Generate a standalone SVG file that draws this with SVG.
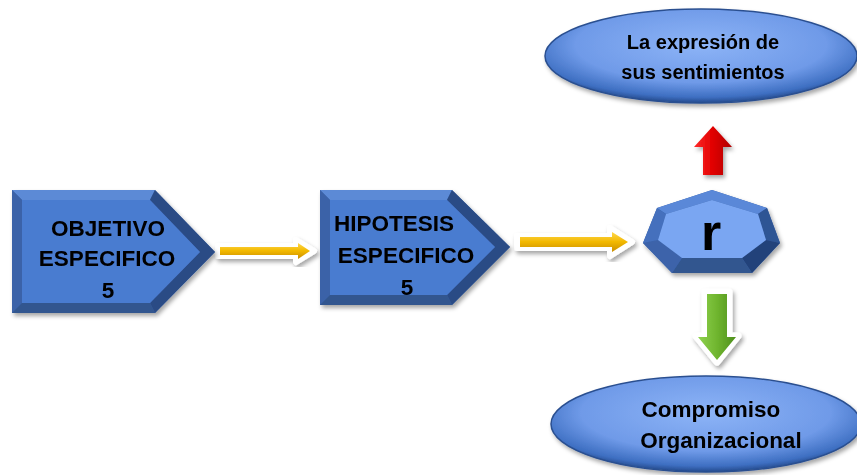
<svg xmlns="http://www.w3.org/2000/svg" width="857" height="475" viewBox="0 0 857 475">
<defs>
<style>
.t{font-family:"Liberation Sans",Arial,sans-serif;font-weight:bold;fill:#000;text-anchor:middle}
.face{fill:#4a7bd0}
.bevL{fill:#3a62a8}
.bevT{fill:#5b8ad6}
.bevD{fill:#2b4b85}
.bevB{fill:#33568f}
</style>
<radialGradient id="ell" cx="0.5" cy="0.38" r="0.62">
<stop offset="0" stop-color="#8db4f7"/>
<stop offset="0.65" stop-color="#6f9ae8"/>
<stop offset="0.9" stop-color="#3e6fc2"/>
<stop offset="1" stop-color="#244a8c"/>
</radialGradient>
<linearGradient id="yel" x1="0" y1="0" x2="0" y2="1">
<stop offset="0" stop-color="#ffd84a"/>
<stop offset="0.5" stop-color="#f2b800"/>
<stop offset="1" stop-color="#c98e00"/>
</linearGradient>
<linearGradient id="red" x1="0" y1="0" x2="1" y2="0">
<stop offset="0" stop-color="#ff2a2a"/>
<stop offset="0.5" stop-color="#e00000"/>
<stop offset="1" stop-color="#b00000"/>
</linearGradient>
<linearGradient id="grn" x1="0" y1="0" x2="1" y2="0">
<stop offset="0" stop-color="#8fd14f"/>
<stop offset="0.5" stop-color="#6fb52e"/>
<stop offset="1" stop-color="#4e8f1c"/>
</linearGradient>
<filter id="sh" x="-20%" y="-20%" width="140%" height="140%">
<feDropShadow dx="2" dy="3" stdDeviation="2" flood-color="#000" flood-opacity="0.35"/>
</filter>
</defs>

<g id="connectors">
<g id="arrow1" filter="url(#sh)">
<path d="M218,246 L296,246 L296,240 L314,251 L296,262 L296,256 L218,256 Z" fill="#fff" stroke="#fff" stroke-width="6" stroke-linejoin="round"/>
<path d="M220,247 L298,247 L298,243 L310,251 L298,259 L298,255 L220,255 Z" fill="url(#yel)"/>
</g>
<g id="arrow2" filter="url(#sh)">
<path d="M517,236 L610,236 L610,228 L632,242 L610,256 L610,248 L517,248 Z" fill="#fff" stroke="#fff" stroke-width="6" stroke-linejoin="round"/>
<path d="M520,237 L612,237 L612,232 L628,242 L612,252 L612,247 L520,247 Z" fill="url(#yel)"/>
</g>
<g id="arrow-up" filter="url(#sh)">
<path d="M703,175 L703,147 L694,147 L713,126 L732,147 L723,147 L723,175 Z" fill="url(#red)"/>
</g>
<g id="arrow-down" filter="url(#sh)">
<path d="M705,292 L729,292 L729,336 L738,336 L717,362 L696,336 L705,336 Z" fill="#fff" stroke="#fff" stroke-width="7" stroke-linejoin="round"/>
<path d="M707,294 L727,294 L727,337 L736,337 L717,360 L698,337 L707,337 Z" fill="url(#grn)"/>
</g>
</g>

<g id="node-objetivo" filter="url(#sh)">
<polygon class="bevL" points="12,190 155,190 215,252 155,313 12,313"/>
<polygon class="bevT" points="12,190 155,190 150,200 22,200"/>
<polygon class="bevL" points="12,190 22,200 22,303 12,313"/>
<polygon class="bevD" points="155,190 215,252 200,252 150,200"/>
<polygon class="bevD" points="215,252 155,313 150,303 200,252"/>
<polygon class="bevB" points="12,313 155,313 150,303 22,303"/>
<polygon class="face" points="22,200 150,200 200,252 150,303 22,303"/>
<text class="t" x="108" y="236" font-size="22.5">OBJETIVO</text>
<text class="t" x="107" y="266" font-size="22.5">ESPECIFICO</text>
<text class="t" x="108" y="298" font-size="22.5">5</text>
</g>

<g id="node-hipotesis" filter="url(#sh)">
<polygon class="bevL" points="320,190 452,190 510,247 452,305 320,305"/>
<polygon class="bevT" points="320,190 452,190 447,200 330,200"/>
<polygon class="bevL" points="320,190 330,200 330,295 320,305"/>
<polygon class="bevD" points="452,190 510,247 495,247 447,200"/>
<polygon class="bevD" points="510,247 452,305 447,295 495,247"/>
<polygon class="bevB" points="320,305 452,305 447,295 330,295"/>
<polygon class="face" points="330,200 447,200 495,247 447,295 330,295"/>
<text class="t" x="394" y="231" font-size="22.5">HIPOTESIS</text>
<text class="t" x="406" y="263" font-size="22.5">ESPECIFICO</text>
<text class="t" x="407" y="295" font-size="22.5">5</text>
</g>

<g id="node-r" filter="url(#sh)">
<polygon fill="#3a62a8" points="712,190 767,208 780,243 752,273 672,273 643,243 657,208"/>
<polygon fill="#5a88d8" points="712,190 767,208 758,214 712,200 666,214 657,208"/>
<polygon fill="#2f5494" points="767,208 780,243 766,240 758,214"/>
<polygon fill="#24437a" points="780,243 752,273 742,258 766,240"/>
<polygon fill="#33568f" points="752,273 672,273 682,258 742,258"/>
<polygon fill="#3c64aa" points="672,273 643,243 658,240 682,258"/>
<polygon fill="#4470bd" points="643,243 657,208 666,214 658,240"/>
<polygon fill="#7aa6f2" points="712,200 758,214 766,240 742,258 682,258 658,240 666,214"/>
<text class="t" x="711" y="250" font-size="52">r</text>
</g>

<g id="node-expresion" filter="url(#sh)">
<ellipse cx="701" cy="56" rx="156" ry="47" fill="url(#ell)" stroke="#2a4f90" stroke-width="1.5"/>
<text class="t" x="703" y="49" font-size="20">La expresión de</text>
<text class="t" x="703" y="79" font-size="20">sus sentimientos</text>
</g>

<g id="node-compromiso" filter="url(#sh)">
<ellipse cx="706" cy="424" rx="155" ry="48" fill="url(#ell)" stroke="#2a4f90" stroke-width="1.5"/>
<text class="t" x="711" y="417" font-size="22.5">Compromiso</text>
<text class="t" x="721" y="448" font-size="22.5">Organizacional</text>
</g>
</svg>
